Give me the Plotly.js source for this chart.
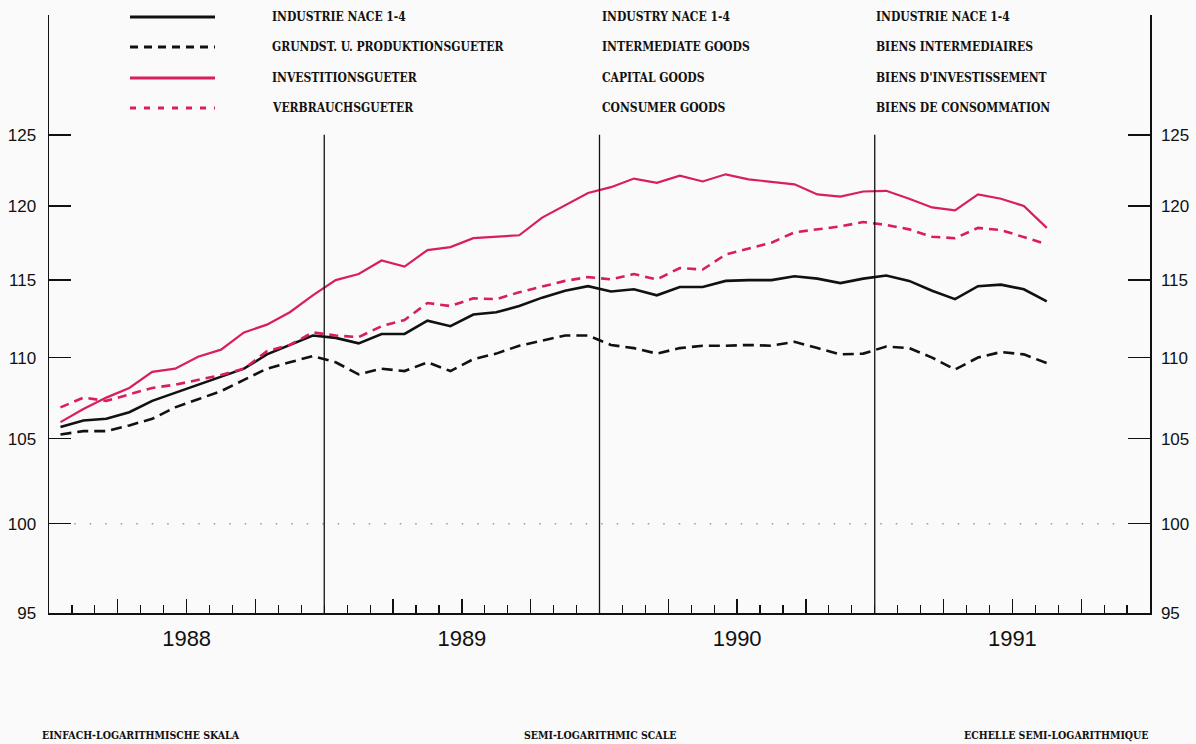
<!DOCTYPE html>
<html><head><meta charset="utf-8">
<script src="https://cdn.plot.ly/plotly-3.0.1.min.js"></script>
<style>html,body{margin:0;padding:0;background:#fafafa}</style>
</head><body>
<div id="chart" style="width:1196px;height:744px"></div>
<script>
// Monthly index values, Jan 1988 .. Aug 1991 (semi-log scale)
const months = ["1988-01","1988-02","1988-03","1988-04","1988-05","1988-06","1988-07","1988-08","1988-09","1988-10","1988-11","1988-12",
  "1989-01","1989-02","1989-03","1989-04","1989-05","1989-06","1989-07","1989-08","1989-09","1989-10","1989-11","1989-12",
  "1990-01","1990-02","1990-03","1990-04","1990-05","1990-06","1990-07","1990-08","1990-09","1990-10","1990-11","1990-12",
  "1991-01","1991-02","1991-03","1991-04","1991-05","1991-06","1991-07","1991-08"];

const industrie = [105.7,106.1,106.2,106.6,107.3,107.8,108.3,108.8,109.3,110.2,110.8,111.4,
  111.25,110.9,111.5,111.5,112.35,112.0,112.75,112.9,113.3,113.85,114.3,114.6,
  114.25,114.4,114.0,114.55,114.55,114.95,115.0,115.0,115.25,115.1,114.8,115.1,
  115.3,114.95,114.3,113.75,114.6,114.7,114.4,113.6];

const grundstoff = [105.25,105.45,105.45,105.8,106.2,106.9,107.4,107.9,108.6,109.3,109.7,110.1,
  109.7,108.95,109.3,109.15,109.7,109.15,109.9,110.25,110.75,111.05,111.4,111.4,
  110.8,110.6,110.25,110.6,110.75,110.75,110.8,110.75,111.0,110.6,110.2,110.25,
  110.7,110.6,110.0,109.25,110.0,110.35,110.2,109.65];

const investition = [106.0,106.8,107.5,108.1,109.1,109.3,110.05,110.5,111.6,112.1,112.9,114.0,
  115.0,115.4,116.3,115.9,117.0,117.2,117.8,117.9,118.0,119.2,120.05,120.9,
  121.3,121.9,121.6,122.1,121.7,122.2,121.85,121.7,121.5,120.8,120.65,121.0,
  121.05,120.5,119.9,119.7,120.8,120.5,120.0,118.5];

const verbrauch = [106.9,107.5,107.3,107.7,108.1,108.3,108.6,108.9,109.3,110.4,110.8,111.6,
  111.4,111.3,112.0,112.4,113.5,113.3,113.8,113.75,114.2,114.6,114.95,115.2,
  115.05,115.4,115.05,115.8,115.7,116.7,117.1,117.5,118.2,118.4,118.6,118.9,
  118.7,118.4,117.9,117.8,118.5,118.35,117.9,117.4];

const years = ["1988","1989","1990","1991"];
const yTicks = [95,100,105,110,115,120,125];
const namesDE = ["INDUSTRIE NACE 1-4","GRUNDST. U. PRODUKTIONSGUETER","INVESTITIONSGUETER","VERBRAUCHSGUETER"];
const namesEN = ["INDUSTRY NACE 1-4","INTERMEDIATE GOODS","CAPITAL GOODS","CONSUMER GOODS"];
const namesFR = ["INDUSTRIE NACE 1-4","BIENS INTERMEDIAIRES","BIENS D'INVESTISSEMENT","BIENS DE CONSOMMATION"];
const footer = ["EINFACH-LOGARITHMISCHE SKALA","SEMI-LOGARITHMIC SCALE","ECHELLE SEMI-LOGARITHMIQUE"];

// positions: month centre (months since Jan 1988)
const xs = months.map((m, i) => i + 0.5);

const RED = '#d81e5b';
const styles = [
  {color:'#111', width:2.6, dash:'solid'},
  {color:'#111', width:2.6, dash:'11px,6px'},
  {color:RED, width:2.2, dash:'solid'},
  {color:RED, width:2.6, dash:'9px,6px'}
];
const series = [industrie, grundstoff, investition, verbrauch];

const traces = series.map((s, k) => ({
  x: xs, y: s, type:'scatter', mode:'lines', name: namesDE[k],
  line: {color: styles[k].color, width: styles[k].width, dash: styles[k].dash, shape:'linear'},
  hoverinfo:'skip', showlegend:false
}));
// right axis carrier (invisible)
traces.push({x:[xs[0]], y:[yTicks[1]], yaxis:'y2', mode:'markers', marker:{opacity:0}, hoverinfo:'skip', showlegend:false});

const W = 1196, H = 744, L = 49, R = 46, T = 15, B = 131;
const pw = W - L - R, ph = H - T - B;
const px = x => (x - L) / pw;
const py = y => (H - B - y) / ph;

const legFont = {family:'"DejaVu Serif Condensed","DejaVu Serif",serif', size:12, color:'#111', weight:700};
const rowsY = [17, 47, 78, 108];
const shapes = [];
const annotations = [];
rowsY.forEach((ry, k) => {
  shapes.push({type:'line', xref:'paper', yref:'paper', x0:px(130), x1:px(215), y0:py(ry), y1:py(ry),
    line:{color:styles[k].color, width:3, dash: k===1 ? '8px,6px' : (k===3 ? '6px,8px' : 'solid')}});
  annotations.push({xref:'paper', yref:'paper', x:px(270), y:py(ry), xanchor:'left', yanchor:'middle', text:namesDE[k], showarrow:false, font:legFont});
  annotations.push({xref:'paper', yref:'paper', x:px(600), y:py(ry), xanchor:'left', yanchor:'middle', text:namesEN[k], showarrow:false, font:legFont});
  annotations.push({xref:'paper', yref:'paper', x:px(874), y:py(ry), xanchor:'left', yanchor:'middle', text:namesFR[k], showarrow:false, font:legFont});
});
// year separators
[12, 24, 36].forEach(v => shapes.push({type:'line', xref:'x', yref:'y', x0:v, x1:v, y0:yTicks[0], y1:yTicks[yTicks.length-1], line:{color:'#111', width:1.3}}));
// dotted 100 line
shapes.push({type:'line', xref:'x', yref:'y', x0:1.1, x1:46.9, y0:100, y1:100, line:{color:'#9a9a9a', width:1.5, dash:'1.5px,14px'}, layer:'below'});

const footFont = {family:'"DejaVu Serif Condensed","DejaVu Serif",serif', size:10.5, color:'#111', weight:700};
annotations.push({xref:'paper', yref:'paper', x:px(40), y:py(735), xanchor:'left', yanchor:'middle', text:footer[0], showarrow:false, font:footFont});
annotations.push({xref:'paper', yref:'paper', x:px(600), y:py(735), xanchor:'center', yanchor:'middle', text:footer[1], showarrow:false, font:footFont});
annotations.push({xref:'paper', yref:'paper', x:px(1150), y:py(735), xanchor:'right', yanchor:'middle', text:footer[2], showarrow:false, font:footFont});

const quarterVals = [3,6,9,15,18,21,27,30,33,39,42,45];
const quarterText = quarterVals.map(v => (v % 12 === 6) ? years[(v - 6) / 12] : '');

const yr = [Math.log10(95), Math.log10(133.9)];
const tickFont = {family:'"Liberation Sans", Arial, sans-serif', size:17, color:'#111'};

const layout = {
  width: W, height: H,
  margin: {l:L, r:R, t:T, b:B, pad:0},
  paper_bgcolor:'#fafafa', plot_bgcolor:'rgba(0,0,0,0)',
  showlegend:false,
  xaxis: {range:[0,48], showgrid:false, zeroline:false, showline:true, linecolor:'#111', linewidth:1.5,
    tickmode:'array', tickvals:quarterVals, ticktext:quarterText, ticks:'inside', ticklen:14, tickwidth:1.3, tickcolor:'#111',
    minor:{tickmode:'linear', tick0:0, dtick:1, ticks:'inside', ticklen:8, tickwidth:1.2, tickcolor:'#111', showgrid:false},
    tickfont:{family:'"Liberation Sans", Arial, sans-serif', size:22, color:'#111'}, ticklabelstandoff:5, fixedrange:true},
  yaxis: {type:'log', range:yr, showgrid:false, zeroline:false, showline:true, linecolor:'#111', linewidth:1.5,
    tickmode:'array', tickvals:yTicks, ticktext:yTicks.map(String), ticks:'inside', ticklen:22, tickwidth:1.5, tickcolor:'#111',
    tickfont:tickFont, ticklabelstandoff:8, fixedrange:true},
  yaxis2: {type:'log', range:yr, overlaying:'y', side:'right', showgrid:false, zeroline:false, showline:true, linecolor:'#111', linewidth:1.5,
    tickmode:'array', tickvals:yTicks, ticktext:yTicks.map(String), ticks:'inside', ticklen:22, tickwidth:1.5, tickcolor:'#111',
    tickfont:tickFont, ticklabelstandoff:6, fixedrange:true},
  shapes: shapes,
  annotations: annotations
};

Plotly.newPlot('chart', traces, layout, {staticPlot:true, displayModeBar:false});
</script>
</body></html>
